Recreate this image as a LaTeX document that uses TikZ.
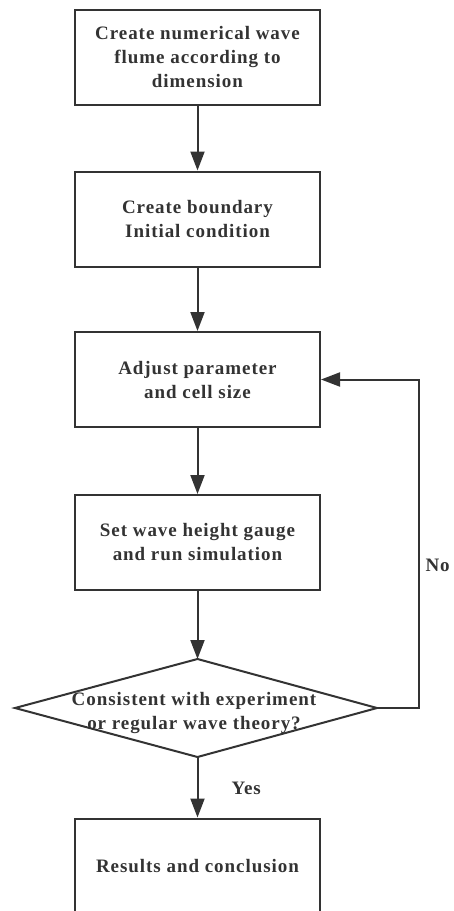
\documentclass[tikz,border=0pt]{standalone}
\usepackage{fontspec}
\setmainfont{Liberation Serif}[LetterSpace=5]
\usetikzlibrary{arrows.meta,shapes.geometric}
\definecolor{ln}{HTML}{333333}
\begin{document}
\begin{tikzpicture}[x=1pt,y=-1pt,
  box/.style={draw=ln,line width=2pt,minimum width=245pt,minimum height=95pt,inner sep=0pt,align=center,text=ln,font=\fontsize{19}{24}\selectfont\bfseries},
  arr/.style={draw=ln,line width=2pt,-{Triangle[length=19pt,width=14pt]}},
  lbl/.style={text=ln,font=\fontsize{19}{24}\selectfont\bfseries}]
\useasboundingbox (0,0) rectangle (453,911);
\node[box] (b1) at (197.5,57) {Create numerical wave\\flume according to\\dimension};
\node[box] (b2) at (197.5,219) {Create boundary\\Initial condition};
\node[box] (b3) at (197.5,379.5) {Adjust parameter\\and cell size};
\node[box] (b4) at (197.5,542.5) {Set wave height gauge\\and run simulation};
\coordinate (dt) at (197.5,659);
\coordinate (db) at (197.5,757);
\coordinate (dr) at (377,708);
\coordinate (dl) at (15,708);
\draw[draw=ln,line width=2pt] (dt) -- (dr) -- (db) -- (dl) -- cycle;
\node[text=ln,font=\fontsize{19}{24}\selectfont\bfseries,align=center] (d) at (194,712.5) {Consistent with experiment\\or regular wave theory?};
\node[box] (b5) at (197.5,866) {Results and conclusion};
\coordinate (c1) at (419,708);
\coordinate (c2) at (419,379.5);
\draw[arr] (b1) -- (b2);
\draw[arr] (b2) -- (b3);
\draw[arr] (b3) -- (b4);
\draw[arr] (b4) -- (dt);
\draw[arr] (db) -- (b5);
\draw[arr] (dr) -- (c1) -- (c2) -- (b3.east);
\node[lbl,anchor=west] (no) at (422,565) {No};
\node[lbl,anchor=west] (yes) at (228,788) {Yes};
\end{tikzpicture}
\end{document}
